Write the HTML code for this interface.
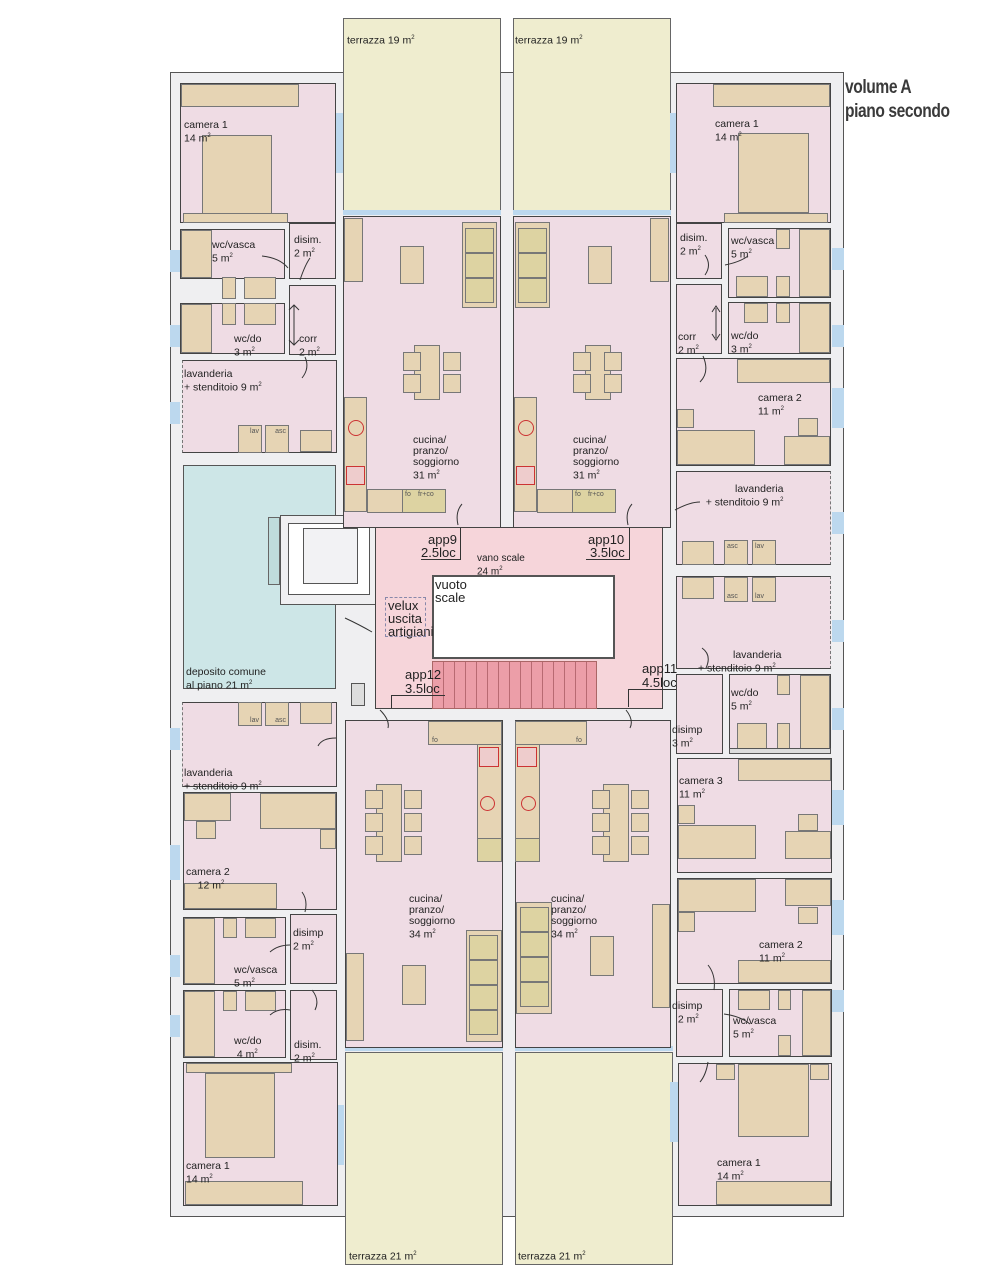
<!DOCTYPE html>
<html><head><meta charset="utf-8">
<style>
html,body{margin:0;padding:0;background:#fff;}
#p{position:relative;width:1000px;height:1277px;overflow:hidden;font-family:"Liberation Sans",sans-serif;color:#222;}
#p div{position:absolute;box-sizing:border-box;}
.w{background:#efeff1;border:1.5px solid #555;}
.r{background:#efdce4;border:1px solid #444;}
.f{background:#e6d4b4;border:1px solid #777;}
.g{background:#ddd3a2;border:1px solid #777;}
.t{font-size:10.5px;line-height:11px;white-space:nowrap;}
.b{font-size:13px;line-height:13px;white-space:nowrap;}
.ter{background:#efedcf;border:1px solid #666;}
.win{background:#bcd8ee;}
.s{font-size:7px;color:#555;}
sup{font-size:6px;}
</style></head><body>
<div id="p">
<!-- building -->
<div class="w" style="left:170px;top:72px;width:674px;height:1145px;"></div>

<!-- terraces -->
<div class="ter" style="left:343px;top:18px;width:158px;height:194px;"></div>
<div class="ter" style="left:513px;top:18px;width:158px;height:194px;"></div>
<div class="ter" style="left:345px;top:1052px;width:158px;height:213px;"></div>
<div class="ter" style="left:515px;top:1052px;width:158px;height:213px;"></div>
<div class="t" style="left:347px;top:33px;">terrazza 19 m<sup>2</sup></div>
<div class="t" style="left:515px;top:33px;">terrazza 19 m<sup>2</sup></div>
<div class="t" style="left:349px;top:1249px;">terrazza 21 m<sup>2</sup></div>
<div class="t" style="left:518px;top:1249px;">terrazza 21 m<sup>2</sup></div>
<div class="win" style="left:343px;top:210px;width:158px;height:5px;"></div>
<div class="win" style="left:513px;top:210px;width:158px;height:5px;"></div>
<div class="win" style="left:345px;top:1046px;width:158px;height:5px;"></div>
<div class="win" style="left:515px;top:1046px;width:158px;height:5px;"></div>

<!-- windows on outer walls -->
<div class="win" style="left:336px;top:113px;width:7px;height:60px;"></div>
<div class="win" style="left:670px;top:113px;width:7px;height:60px;"></div>
<div class="win" style="left:170px;top:250px;width:10px;height:22px;"></div>
<div class="win" style="left:170px;top:325px;width:10px;height:22px;"></div>
<div class="win" style="left:170px;top:402px;width:10px;height:22px;"></div>
<div class="win" style="left:170px;top:728px;width:10px;height:22px;"></div>
<div class="win" style="left:170px;top:845px;width:10px;height:35px;"></div>
<div class="win" style="left:170px;top:955px;width:10px;height:22px;"></div>
<div class="win" style="left:170px;top:1015px;width:10px;height:22px;"></div>
<div class="win" style="left:336px;top:1105px;width:8px;height:60px;"></div>
<div class="win" style="left:832px;top:248px;width:12px;height:22px;"></div>
<div class="win" style="left:832px;top:325px;width:12px;height:22px;"></div>
<div class="win" style="left:832px;top:388px;width:12px;height:40px;"></div>
<div class="win" style="left:832px;top:512px;width:12px;height:22px;"></div>
<div class="win" style="left:832px;top:620px;width:12px;height:22px;"></div>
<div class="win" style="left:832px;top:708px;width:12px;height:22px;"></div>
<div class="win" style="left:832px;top:790px;width:12px;height:35px;"></div>
<div class="win" style="left:832px;top:900px;width:12px;height:35px;"></div>
<div class="win" style="left:832px;top:990px;width:12px;height:22px;"></div>
<div class="win" style="left:670px;top:1082px;width:8px;height:60px;"></div>

<!-- LEFT COLUMN top -->
<div class="r" style="left:180px;top:83px;width:156px;height:140px;"></div>
<div class="f" style="left:181px;top:84px;width:118px;height:23px;"></div>
<div class="f" style="left:202px;top:135px;width:70px;height:80px;"></div>
<div class="f" style="left:183px;top:213px;width:105px;height:10px;"></div>
<div class="t" style="left:184px;top:120px;">camera 1<br>14 m<sup>2</sup></div>

<div class="r" style="left:180px;top:229px;width:105px;height:50px;"></div>
<div class="f" style="left:181px;top:230px;width:31px;height:48px;"></div>
<div class="f" style="left:222px;top:277px;width:14px;height:22px;"></div>
<div class="f" style="left:244px;top:277px;width:32px;height:22px;"></div>
<div class="t" style="left:212px;top:240px;">wc/vasca<br>5 m<sup>2</sup></div>
<div class="r" style="left:289px;top:223px;width:47px;height:56px;"></div>
<div class="t" style="left:294px;top:235px;">disim.<br>2 m<sup>2</sup></div>

<div class="r" style="left:180px;top:303px;width:105px;height:51px;"></div>
<div class="f" style="left:181px;top:304px;width:31px;height:49px;"></div>
<div class="f" style="left:222px;top:303px;width:14px;height:22px;"></div>
<div class="f" style="left:244px;top:303px;width:32px;height:22px;"></div>
<div class="t" style="left:234px;top:334px;">wc/do<br>3 m<sup>2</sup></div>
<div class="r" style="left:289px;top:285px;width:47px;height:70px;"></div>
<div class="t" style="left:299px;top:334px;">corr<br>2 m<sup>2</sup></div>

<div class="r" style="left:182px;top:360px;width:155px;height:93px;border-left:1px dashed #777;"></div>
<div class="f" style="left:238px;top:425px;width:24px;height:28px;"><span class="s" style="position:absolute;right:2px;top:2px;">lav</span></div>
<div class="f" style="left:265px;top:425px;width:24px;height:28px;"><span class="s" style="position:absolute;right:2px;top:2px;">asc</span></div>
<div class="f" style="left:300px;top:430px;width:32px;height:22px;"></div>
<div class="t" style="left:184px;top:369px;">lavanderia<br>+ stenditoio 9 m<sup>2</sup></div>

<!-- deposito -->
<div style="left:183px;top:465px;width:153px;height:224px;background:#cde6e7;border:1px solid #555;"></div>
<div style="left:280px;top:515px;width:96px;height:90px;background:#efeff1;border:1px solid #555;"></div>
<div style="left:288px;top:523px;width:82px;height:72px;background:#fff;border:1px solid #555;"></div>
<div style="left:303px;top:528px;width:55px;height:56px;background:#f2f2f4;border:1px solid #555;"></div>
<div style="left:268px;top:517px;width:12px;height:68px;background:#bfdcdc;border:1px solid #666;"></div>
<div class="t" style="left:186px;top:667px;">deposito comune<br>al piano 21 m<sup>2</sup></div>
<div style="left:351px;top:683px;width:14px;height:23px;background:#ddd;border:1px solid #555;"></div>

<!-- left lower -->
<div class="r" style="left:182px;top:702px;width:155px;height:85px;border-left:1px dashed #777;"></div>
<div class="f" style="left:238px;top:702px;width:24px;height:24px;"><span class="s" style="position:absolute;right:2px;bottom:1px;">lav</span></div>
<div class="f" style="left:265px;top:702px;width:24px;height:24px;"><span class="s" style="position:absolute;right:2px;bottom:1px;">asc</span></div>
<div class="f" style="left:300px;top:702px;width:32px;height:22px;"></div>
<div class="t" style="left:184px;top:768px;">lavanderia<br>+ stenditoio 9 m<sup>2</sup></div>

<div class="r" style="left:183px;top:792px;width:154px;height:118px;"></div>
<div class="f" style="left:184px;top:793px;width:47px;height:28px;"></div>
<div class="f" style="left:196px;top:821px;width:20px;height:18px;"></div>
<div class="f" style="left:260px;top:793px;width:76px;height:36px;"></div>
<div class="f" style="left:320px;top:829px;width:16px;height:20px;"></div>
<div class="f" style="left:184px;top:883px;width:93px;height:26px;"></div>
<div class="t" style="left:186px;top:867px;">camera 2<br>&nbsp;&nbsp;&nbsp;&nbsp;12 m<sup>2</sup></div>

<div class="r" style="left:183px;top:917px;width:103px;height:68px;"></div>
<div class="f" style="left:184px;top:918px;width:31px;height:66px;"></div>
<div class="f" style="left:223px;top:918px;width:14px;height:20px;"></div>
<div class="f" style="left:245px;top:918px;width:31px;height:20px;"></div>
<div class="t" style="left:234px;top:965px;">wc/vasca<br>5 m<sup>2</sup></div>
<div class="r" style="left:290px;top:914px;width:47px;height:70px;"></div>
<div class="t" style="left:293px;top:928px;">disimp<br>2 m<sup>2</sup></div>

<div class="r" style="left:183px;top:990px;width:103px;height:68px;"></div>
<div class="f" style="left:184px;top:991px;width:31px;height:66px;"></div>
<div class="f" style="left:223px;top:991px;width:14px;height:20px;"></div>
<div class="f" style="left:245px;top:991px;width:31px;height:20px;"></div>
<div class="t" style="left:234px;top:1036px;">wc/do<br>&nbsp;4 m<sup>2</sup></div>
<div class="r" style="left:290px;top:990px;width:47px;height:70px;"></div>
<div class="t" style="left:294px;top:1040px;">disim.<br>2 m<sup>2</sup></div>

<div class="r" style="left:183px;top:1062px;width:155px;height:144px;"></div>
<div class="f" style="left:186px;top:1063px;width:106px;height:10px;"></div>
<div class="f" style="left:205px;top:1073px;width:70px;height:85px;"></div>
<div class="f" style="left:185px;top:1181px;width:118px;height:24px;"></div>
<div class="t" style="left:186px;top:1161px;">camera 1<br>14 m<sup>2</sup></div>

<!-- CENTRAL upper living -->
<div class="r" style="left:343px;top:216px;width:158px;height:312px;"></div>
<div class="r" style="left:513px;top:216px;width:158px;height:312px;"></div>
<!-- app9 furniture -->
<div class="f" style="left:344px;top:218px;width:19px;height:64px;"></div>
<div class="f" style="left:400px;top:246px;width:24px;height:38px;"></div>
<div class="f" style="left:462px;top:222px;width:35px;height:86px;"></div>
<div class="g" style="left:465px;top:228px;width:29px;height:25px;"></div>
<div class="g" style="left:465px;top:253px;width:29px;height:25px;"></div>
<div class="g" style="left:465px;top:278px;width:29px;height:25px;"></div>
<div class="f" style="left:414px;top:345px;width:26px;height:55px;"></div>
<div class="f" style="left:403px;top:352px;width:18px;height:19px;"></div>
<div class="f" style="left:403px;top:374px;width:18px;height:19px;"></div>
<div class="f" style="left:443px;top:352px;width:18px;height:19px;"></div>
<div class="f" style="left:443px;top:374px;width:18px;height:19px;"></div>
<div class="f" style="left:344px;top:397px;width:23px;height:115px;"></div>
<div style="left:348px;top:420px;width:16px;height:16px;border:1px solid #c33;border-radius:50%;"></div>
<div style="left:346px;top:466px;width:19px;height:19px;border:1px solid #c33;background:#ecc;"></div>
<div class="f" style="left:367px;top:489px;width:78px;height:24px;"></div>
<div class="g" style="left:402px;top:489px;width:44px;height:24px;"></div>
<div class="s" style="left:405px;top:491px;">fo</div><div class="s" style="left:418px;top:491px;">fr+co</div>
<div class="t" style="left:413px;top:435px;">cucina/<br>pranzo/<br>soggiorno<br>31 m<sup>2</sup></div>
<!-- app10 furniture -->
<div class="f" style="left:650px;top:218px;width:19px;height:64px;"></div>
<div class="f" style="left:588px;top:246px;width:24px;height:38px;"></div>
<div class="f" style="left:515px;top:222px;width:35px;height:86px;"></div>
<div class="g" style="left:518px;top:228px;width:29px;height:25px;"></div>
<div class="g" style="left:518px;top:253px;width:29px;height:25px;"></div>
<div class="g" style="left:518px;top:278px;width:29px;height:25px;"></div>
<div class="f" style="left:585px;top:345px;width:26px;height:55px;"></div>
<div class="f" style="left:573px;top:352px;width:18px;height:19px;"></div>
<div class="f" style="left:573px;top:374px;width:18px;height:19px;"></div>
<div class="f" style="left:604px;top:352px;width:18px;height:19px;"></div>
<div class="f" style="left:604px;top:374px;width:18px;height:19px;"></div>
<div class="f" style="left:514px;top:397px;width:23px;height:115px;"></div>
<div style="left:518px;top:420px;width:16px;height:16px;border:1px solid #c33;border-radius:50%;"></div>
<div style="left:516px;top:466px;width:19px;height:19px;border:1px solid #c33;background:#ecc;"></div>
<div class="f" style="left:537px;top:489px;width:78px;height:24px;"></div>
<div class="g" style="left:572px;top:489px;width:44px;height:24px;"></div>
<div class="s" style="left:575px;top:491px;">fo</div><div class="s" style="left:588px;top:491px;">fr+co</div>
<div class="t" style="left:573px;top:435px;">cucina/<br>pranzo/<br>soggiorno<br>31 m<sup>2</sup></div>

<!-- stair hall -->
<div style="left:375px;top:527px;width:288px;height:182px;background:#f6d5da;border:1px solid #444;"></div>
<div style="left:432px;top:575px;width:183px;height:84px;background:#fff;border:2px solid #555;"></div>
<div style="left:432px;top:661px;width:165px;height:48px;background:repeating-linear-gradient(90deg,#ec9ea8 0 10px,#b86a72 10px 11px);border:1px solid #a66;"></div>
<div class="b" style="left:435px;top:578px;">vuoto<br>scale</div>
<div class="b" style="left:388px;top:599px;">velux<br>uscita<br>artigiani</div>
<div style="left:385px;top:597px;width:41px;height:40px;border:1px dashed #88a;"></div>
<div class="t" style="left:477px;top:553px;font-size:10px;">vano scale<br>24 m<sup>2</sup></div>
<div class="b" style="left:428px;top:533px;">app9</div>
<div class="b" style="left:421px;top:546px;">2.5loc</div>
<div style="left:421px;top:559px;width:40px;border-top:1px solid #333;"></div>
<div style="left:460px;top:528px;height:31px;border-left:1px solid #333;"></div>
<div class="b" style="left:588px;top:533px;">app10</div>
<div class="b" style="left:590px;top:546px;">3.5loc</div>
<div style="left:586px;top:559px;width:44px;border-top:1px solid #333;"></div>
<div style="left:629px;top:528px;height:31px;border-left:1px solid #333;"></div>
<div class="b" style="left:405px;top:668px;">app12</div>
<div class="b" style="left:405px;top:682px;">3.5loc</div>
<div style="left:391px;top:695px;width:54px;border-top:1px solid #333;"></div>
<div style="left:391px;top:695px;height:13px;border-left:1px solid #333;"></div>
<div class="b" style="left:642px;top:662px;">app11</div>
<div class="b" style="left:642px;top:676px;">4.5loc</div>
<div style="left:628px;top:689px;width:55px;border-top:1px solid #333;"></div>
<div style="left:628px;top:689px;height:18px;border-left:1px solid #333;"></div>

<!-- CENTRAL lower living -->
<div class="r" style="left:345px;top:720px;width:158px;height:328px;"></div>
<div class="r" style="left:515px;top:720px;width:156px;height:328px;"></div>
<div class="f" style="left:428px;top:721px;width:74px;height:24px;"></div>
<div class="s" style="left:432px;top:737px;">fo</div>
<div class="f" style="left:477px;top:744px;width:25px;height:118px;"></div>
<div style="left:479px;top:747px;width:20px;height:20px;border:1px solid #c33;background:#ecc;"></div>
<div style="left:480px;top:796px;width:15px;height:15px;border:1px solid #c33;border-radius:50%;"></div>
<div class="g" style="left:477px;top:838px;width:25px;height:24px;"></div>
<div class="f" style="left:376px;top:784px;width:26px;height:78px;"></div>
<div class="f" style="left:365px;top:790px;width:18px;height:19px;"></div>
<div class="f" style="left:365px;top:813px;width:18px;height:19px;"></div>
<div class="f" style="left:365px;top:836px;width:18px;height:19px;"></div>
<div class="f" style="left:404px;top:790px;width:18px;height:19px;"></div>
<div class="f" style="left:404px;top:813px;width:18px;height:19px;"></div>
<div class="f" style="left:404px;top:836px;width:18px;height:19px;"></div>
<div class="f" style="left:346px;top:953px;width:18px;height:88px;"></div>
<div class="f" style="left:402px;top:965px;width:24px;height:40px;"></div>
<div class="f" style="left:466px;top:930px;width:36px;height:112px;"></div>
<div class="g" style="left:469px;top:935px;width:29px;height:25px;"></div>
<div class="g" style="left:469px;top:960px;width:29px;height:25px;"></div>
<div class="g" style="left:469px;top:985px;width:29px;height:25px;"></div>
<div class="g" style="left:469px;top:1010px;width:29px;height:25px;"></div>
<div class="t" style="left:409px;top:894px;">cucina/<br>pranzo/<br>soggiorno<br>34 m<sup>2</sup></div>

<div class="f" style="left:515px;top:721px;width:72px;height:24px;"></div>
<div class="s" style="left:576px;top:737px;">fo</div>
<div class="f" style="left:515px;top:744px;width:25px;height:118px;"></div>
<div style="left:517px;top:747px;width:20px;height:20px;border:1px solid #c33;background:#ecc;"></div>
<div style="left:521px;top:796px;width:15px;height:15px;border:1px solid #c33;border-radius:50%;"></div>
<div class="g" style="left:515px;top:838px;width:25px;height:24px;"></div>
<div class="f" style="left:603px;top:784px;width:26px;height:78px;"></div>
<div class="f" style="left:592px;top:790px;width:18px;height:19px;"></div>
<div class="f" style="left:592px;top:813px;width:18px;height:19px;"></div>
<div class="f" style="left:592px;top:836px;width:18px;height:19px;"></div>
<div class="f" style="left:631px;top:790px;width:18px;height:19px;"></div>
<div class="f" style="left:631px;top:813px;width:18px;height:19px;"></div>
<div class="f" style="left:631px;top:836px;width:18px;height:19px;"></div>
<div class="f" style="left:652px;top:904px;width:18px;height:104px;"></div>
<div class="f" style="left:590px;top:936px;width:24px;height:40px;"></div>
<div class="f" style="left:516px;top:902px;width:36px;height:112px;"></div>
<div class="g" style="left:520px;top:907px;width:29px;height:25px;"></div>
<div class="g" style="left:520px;top:932px;width:29px;height:25px;"></div>
<div class="g" style="left:520px;top:957px;width:29px;height:25px;"></div>
<div class="g" style="left:520px;top:982px;width:29px;height:25px;"></div>
<div class="t" style="left:551px;top:894px;">cucina/<br>pranzo/<br>soggiorno<br>34 m<sup>2</sup></div>

<!-- RIGHT COLUMN -->
<div class="r" style="left:676px;top:83px;width:155px;height:140px;"></div>
<div class="f" style="left:713px;top:84px;width:117px;height:23px;"></div>
<div class="f" style="left:738px;top:133px;width:71px;height:80px;"></div>
<div class="f" style="left:724px;top:213px;width:104px;height:10px;"></div>
<div class="t" style="left:715px;top:119px;">camera 1<br>14 m<sup>2</sup></div>

<div class="r" style="left:676px;top:223px;width:46px;height:56px;"></div>
<div class="t" style="left:680px;top:233px;">disim.<br>2 m<sup>2</sup></div>
<div class="r" style="left:728px;top:228px;width:103px;height:70px;"></div>
<div class="f" style="left:799px;top:229px;width:31px;height:68px;"></div>
<div class="f" style="left:776px;top:229px;width:14px;height:20px;"></div>
<div class="f" style="left:736px;top:276px;width:32px;height:21px;"></div>
<div class="f" style="left:776px;top:276px;width:14px;height:21px;"></div>
<div class="t" style="left:731px;top:236px;">wc/vasca<br>5 m<sup>2</sup></div>
<div class="r" style="left:676px;top:284px;width:46px;height:70px;"></div>
<div class="t" style="left:678px;top:332px;">corr<br>2 m<sup>2</sup></div>
<div class="r" style="left:728px;top:302px;width:103px;height:52px;"></div>
<div class="f" style="left:799px;top:303px;width:31px;height:50px;"></div>
<div class="f" style="left:744px;top:303px;width:24px;height:20px;"></div>
<div class="f" style="left:776px;top:303px;width:14px;height:20px;"></div>
<div class="t" style="left:731px;top:331px;">wc/do<br>3 m<sup>2</sup></div>

<div class="r" style="left:676px;top:358px;width:155px;height:108px;"></div>
<div class="f" style="left:737px;top:359px;width:93px;height:24px;"></div>
<div class="f" style="left:677px;top:409px;width:17px;height:19px;"></div>
<div class="f" style="left:677px;top:430px;width:78px;height:35px;"></div>
<div class="f" style="left:798px;top:418px;width:20px;height:18px;"></div>
<div class="f" style="left:784px;top:436px;width:46px;height:29px;"></div>
<div class="t" style="left:758px;top:393px;">camera 2<br>11 m<sup>2</sup></div>

<div class="r" style="left:676px;top:471px;width:155px;height:94px;border-right:1px dashed #777;"></div>
<div class="f" style="left:682px;top:541px;width:32px;height:24px;"></div>
<div class="f" style="left:724px;top:540px;width:24px;height:25px;"><span class="s" style="position:absolute;left:2px;top:2px;">asc</span></div>
<div class="f" style="left:752px;top:540px;width:24px;height:25px;"><span class="s" style="position:absolute;left:2px;top:2px;">lav</span></div>
<div class="t" style="left:700px;top:484px;text-align:right;">&nbsp;&nbsp;&nbsp;&nbsp;&nbsp;&nbsp;&nbsp;&nbsp;&nbsp;&nbsp;&nbsp;&nbsp;lavanderia<br>+ stenditoio 9 m<sup>2</sup></div>

<div class="r" style="left:676px;top:576px;width:155px;height:93px;border-right:1px dashed #777;"></div>
<div class="f" style="left:682px;top:577px;width:32px;height:22px;"></div>
<div class="f" style="left:724px;top:577px;width:24px;height:25px;"><span class="s" style="position:absolute;left:2px;bottom:1px;">asc</span></div>
<div class="f" style="left:752px;top:577px;width:24px;height:25px;"><span class="s" style="position:absolute;left:2px;bottom:1px;">lav</span></div>
<div class="t" style="left:698px;top:650px;">&nbsp;&nbsp;&nbsp;&nbsp;&nbsp;&nbsp;&nbsp;&nbsp;&nbsp;&nbsp;&nbsp;&nbsp;lavanderia<br>+ stenditoio 9 m<sup>2</sup></div>

<div class="r" style="left:676px;top:674px;width:47px;height:80px;"></div>
<div class="t" style="left:672px;top:725px;">disimp<br>3 m<sup>2</sup></div>
<div class="r" style="left:729px;top:674px;width:102px;height:77px;"></div>
<div class="f" style="left:800px;top:675px;width:30px;height:75px;"></div>
<div class="f" style="left:777px;top:675px;width:13px;height:20px;"></div>
<div class="f" style="left:737px;top:723px;width:30px;height:27px;"></div>
<div class="f" style="left:777px;top:723px;width:13px;height:27px;"></div>
<div class="t" style="left:731px;top:688px;">wc/do<br>5 m<sup>2</sup></div>
<div style="left:729px;top:748px;width:102px;height:6px;background:#ddd;border:1px solid #555;"></div>

<div class="r" style="left:677px;top:758px;width:155px;height:115px;"></div>
<div class="f" style="left:738px;top:759px;width:93px;height:22px;"></div>
<div class="f" style="left:678px;top:805px;width:17px;height:19px;"></div>
<div class="f" style="left:678px;top:825px;width:78px;height:34px;"></div>
<div class="f" style="left:798px;top:814px;width:20px;height:17px;"></div>
<div class="f" style="left:785px;top:831px;width:46px;height:28px;"></div>
<div class="t" style="left:679px;top:776px;">camera 3<br>11 m<sup>2</sup></div>

<div class="r" style="left:677px;top:878px;width:155px;height:106px;"></div>
<div class="f" style="left:678px;top:879px;width:78px;height:33px;"></div>
<div class="f" style="left:785px;top:879px;width:46px;height:27px;"></div>
<div class="f" style="left:798px;top:907px;width:20px;height:17px;"></div>
<div class="f" style="left:678px;top:912px;width:17px;height:20px;"></div>
<div class="f" style="left:738px;top:960px;width:93px;height:23px;"></div>
<div class="t" style="left:759px;top:940px;">camera 2<br>11 m<sup>2</sup></div>

<div class="r" style="left:676px;top:989px;width:47px;height:68px;"></div>
<div class="t" style="left:672px;top:1001px;">disimp<br>&nbsp;&nbsp;2 m<sup>2</sup></div>
<div class="r" style="left:729px;top:989px;width:103px;height:68px;"></div>
<div class="f" style="left:802px;top:990px;width:29px;height:66px;"></div>
<div class="f" style="left:738px;top:990px;width:32px;height:20px;"></div>
<div class="f" style="left:778px;top:990px;width:13px;height:20px;"></div>
<div class="f" style="left:778px;top:1035px;width:13px;height:21px;"></div>
<div class="t" style="left:733px;top:1016px;">wc/vasca<br>5 m<sup>2</sup></div>

<div class="r" style="left:678px;top:1063px;width:154px;height:143px;"></div>
<div class="f" style="left:716px;top:1064px;width:19px;height:16px;"></div>
<div class="f" style="left:738px;top:1064px;width:71px;height:73px;"></div>
<div class="f" style="left:810px;top:1064px;width:19px;height:16px;"></div>
<div class="f" style="left:716px;top:1181px;width:115px;height:24px;"></div>
<div class="t" style="left:717px;top:1158px;">camera 1<br>14 m<sup>2</sup></div>

<!-- door swings (simplified arcs) -->
<svg style="position:absolute;left:0;top:0" width="1000" height="1277" fill="none" stroke="#333" stroke-width="1">
<path d="M300 280 Q305 265 310 258 M262 256 Q280 258 288 268 M294 325 L294 305 M294 325 L294 345 M299 340 L294 345 L289 340 M299 310 L294 305 L289 310 M305 357 Q310 368 302 378"/>
<path d="M458 525 Q455 512 462 504 M628 525 Q625 512 632 504 M345 618 Q360 625 372 632 M380 710 Q390 720 388 728 M626 710 Q634 720 630 728"/>
<path d="M705 275 Q712 265 705 255 M725 265 Q740 262 748 256 M716 308 L716 338 M712 312 L716 306 L720 312 M712 334 L716 340 L720 334 M703 356 Q710 372 700 382 M675 510 Q690 502 700 502 M706 668 Q712 655 702 648"/>
<path d="M714 990 Q716 975 708 965 M724 1014 Q740 1016 750 1024 M708 1062 Q706 1075 700 1082 M312 990 Q320 1000 315 1010 M290 1010 Q278 1008 270 1015 M290 945 Q278 945 270 952 M305 912 Q308 900 302 892 M336 738 Q322 738 318 746"/>
</svg>

<!-- title -->
<div style="left:845px;top:76px;font-size:19px;font-weight:bold;color:#3a3a3a;line-height:24px;letter-spacing:-0.5px;transform:scaleX(0.82);transform-origin:left top;white-space:nowrap;font-family:'Liberation Sans Narrow','Liberation Sans',sans-serif;">volume A<br>piano secondo</div>
</div>
</body></html>
